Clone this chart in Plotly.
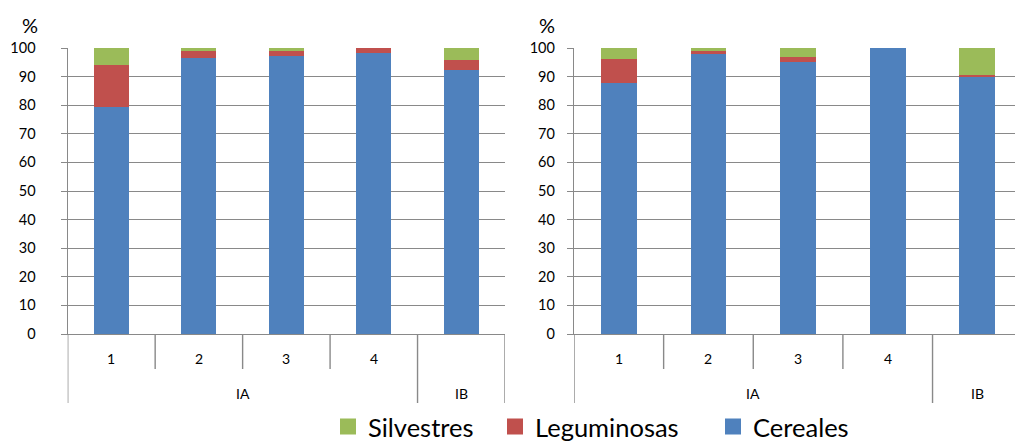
import plotly.graph_objects as go

# Category structure shared by both panels
groups = ["IA", "IA", "IA", "IA", "IB"]
levels = ["1", "2", "3", "4", ""]

series_names = ["Cereales", "Leguminosas", "Silvestres"]
series_colors = ["#4F81BD", "#C0504D", "#9BBB59"]

# Left panel (%)
left_cereales = [79.2, 96.4, 97.3, 98.3, 92.3]
left_leguminosas = [14.9, 2.5, 1.6, 1.7, 3.6]
left_silvestres = [5.9, 1.1, 1.1, 0.0, 4.1]

# Right panel (%)
right_cereales = [87.9, 98.0, 95.2, 100.0, 89.9]
right_leguminosas = [8.3, 0.9, 1.7, 0.0, 0.7]
right_silvestres = [3.8, 1.1, 3.1, 0.0, 9.4]

W, H = 1015, 443
TOP, BOTTOM = 48, 109
PLOT_H = H - TOP - BOTTOM
GRID = "#898989"
FONT = "Lato"

positions = list(range(len(levels)))

fig = go.Figure()

panels = [
    ("x", "y", [left_cereales, left_leguminosas, left_silvestres]),
    ("x2", "y2", [right_cereales, right_leguminosas, right_silvestres]),
]
for xa, ya, values in panels:
    for name, color, vals in zip(series_names, series_colors, values):
        fig.add_trace(go.Bar(
            x=positions, y=vals, name=name, xaxis=xa, yaxis=ya,
            marker=dict(color=color, line=dict(width=0)),
            width=0.4, showlegend=False, hoverinfo="y+name",
        ))

# Key: one legend per series so each entry sits at its own spot
legend_ids = {"Silvestres": "legend", "Leguminosas": "legend2", "Cereales": "legend3"}
legend_left_px = {"legend": 328, "legend2": 495, "legend3": 713}

for name, color in zip(series_names, series_colors):
    fig.add_trace(go.Scatter(
        x=[None], y=[None], mode="markers", name=name,
        marker=dict(symbol="square", size=16, color=color),
        showlegend=True, legend=legend_ids[name],
    ))

axis_common = dict(
    range=[0, 100], dtick=10, showgrid=True, gridcolor=GRID, gridwidth=1.4,
    showline=True, linecolor=GRID, linewidth=1.4,
    ticks="outside", ticklen=6, tickcolor=GRID, tickwidth=1.4,
    zeroline=False, tickfont=dict(family=FONT, size=14.5, color="#000000"),
)
xaxis_common = dict(
    showticklabels=False, showgrid=False, zeroline=False,
    showline=True, linecolor=GRID, linewidth=1.4, ticks="",
)

legend_y = -(427 - (H - BOTTOM)) / PLOT_H
legends = {}
for lid, px in legend_left_px.items():
    legends[lid] = dict(
        orientation="h", x=px / W, xanchor="left",
        y=legend_y, yanchor="middle",
        font=dict(family=FONT, size=25.5, color="#000000"),
        itemwidth=30, bgcolor="rgba(0,0,0,0)",
    )

fig.update_layout(
    width=W, height=H,
    margin=dict(l=0, r=0, t=TOP, b=BOTTOM, autoexpand=False),
    paper_bgcolor="white", plot_bgcolor="white",
    barmode="stack",
    font=dict(family=FONT, color="#000000"),
    xaxis=dict(domain=[67.7 / W, 505 / W], range=[-0.5, 4.5], **xaxis_common),
    xaxis2=dict(domain=[574 / W, 1.0], range=[-0.5, 4.42], **xaxis_common),
    yaxis=dict(anchor="x", ticklabelstandoff=22, **axis_common),
    yaxis2=dict(anchor="x2", ticklabelstandoff=9, **axis_common),
    **legends,
)

inner_low = -(369 - (H - BOTTOM)) / PLOT_H
outer_low = -(403 - (H - BOTTOM)) / PLOT_H

shapes = []
annotations = []
for xa, last_visible in (("x", True), ("x2", False)):
    bounds = [-0.5 + i for i in range(len(levels) + 1)]
    for i, b in enumerate(bounds):
        if i == len(levels) and not last_visible:
            continue
        # group boundaries reach the lower label row
        is_group_edge = (i == 0 or i == len(levels)
                         or groups[i] != groups[i - 1])
        shapes.append(dict(
            type="line", xref=xa, yref="paper", x0=b, x1=b, y0=0,
            y1=outer_low if is_group_edge else inner_low,
            line=dict(color=GRID, width=1.4),
        ))
    for i, lab in enumerate(levels):
        if lab:
            annotations.append(dict(
                text=lab, xref=xa, yref="paper", x=positions[i],
                y=-(358 - (H - BOTTOM)) / PLOT_H, showarrow=False,
                font=dict(family=FONT, size=14, color="#000000"),
                xanchor="center", yanchor="middle",
            ))
    seen = []
    for g in groups:
        if g not in seen:
            seen.append(g)
    for g in seen:
        idx = [i for i, gg in enumerate(groups) if gg == g]
        annotations.append(dict(
            text=g, xref=xa, yref="paper", x=(idx[0] + idx[-1]) / 2,
            y=-(393 - (H - BOTTOM)) / PLOT_H, showarrow=False,
            font=dict(family=FONT, size=14, color="#000000"),
            xanchor="center", yanchor="middle",
        ))

# Axis unit labels
for px in (30, 547):
    annotations.append(dict(
        text="%", xref="paper", yref="paper", x=px / W,
        y=((H - BOTTOM) - 25) / PLOT_H, showarrow=False,
        font=dict(family=FONT, size=20, color="#000000"),
        xanchor="center", yanchor="middle",
    ))

fig.update_layout(shapes=shapes, annotations=annotations)

fig.write_html("out.html")
